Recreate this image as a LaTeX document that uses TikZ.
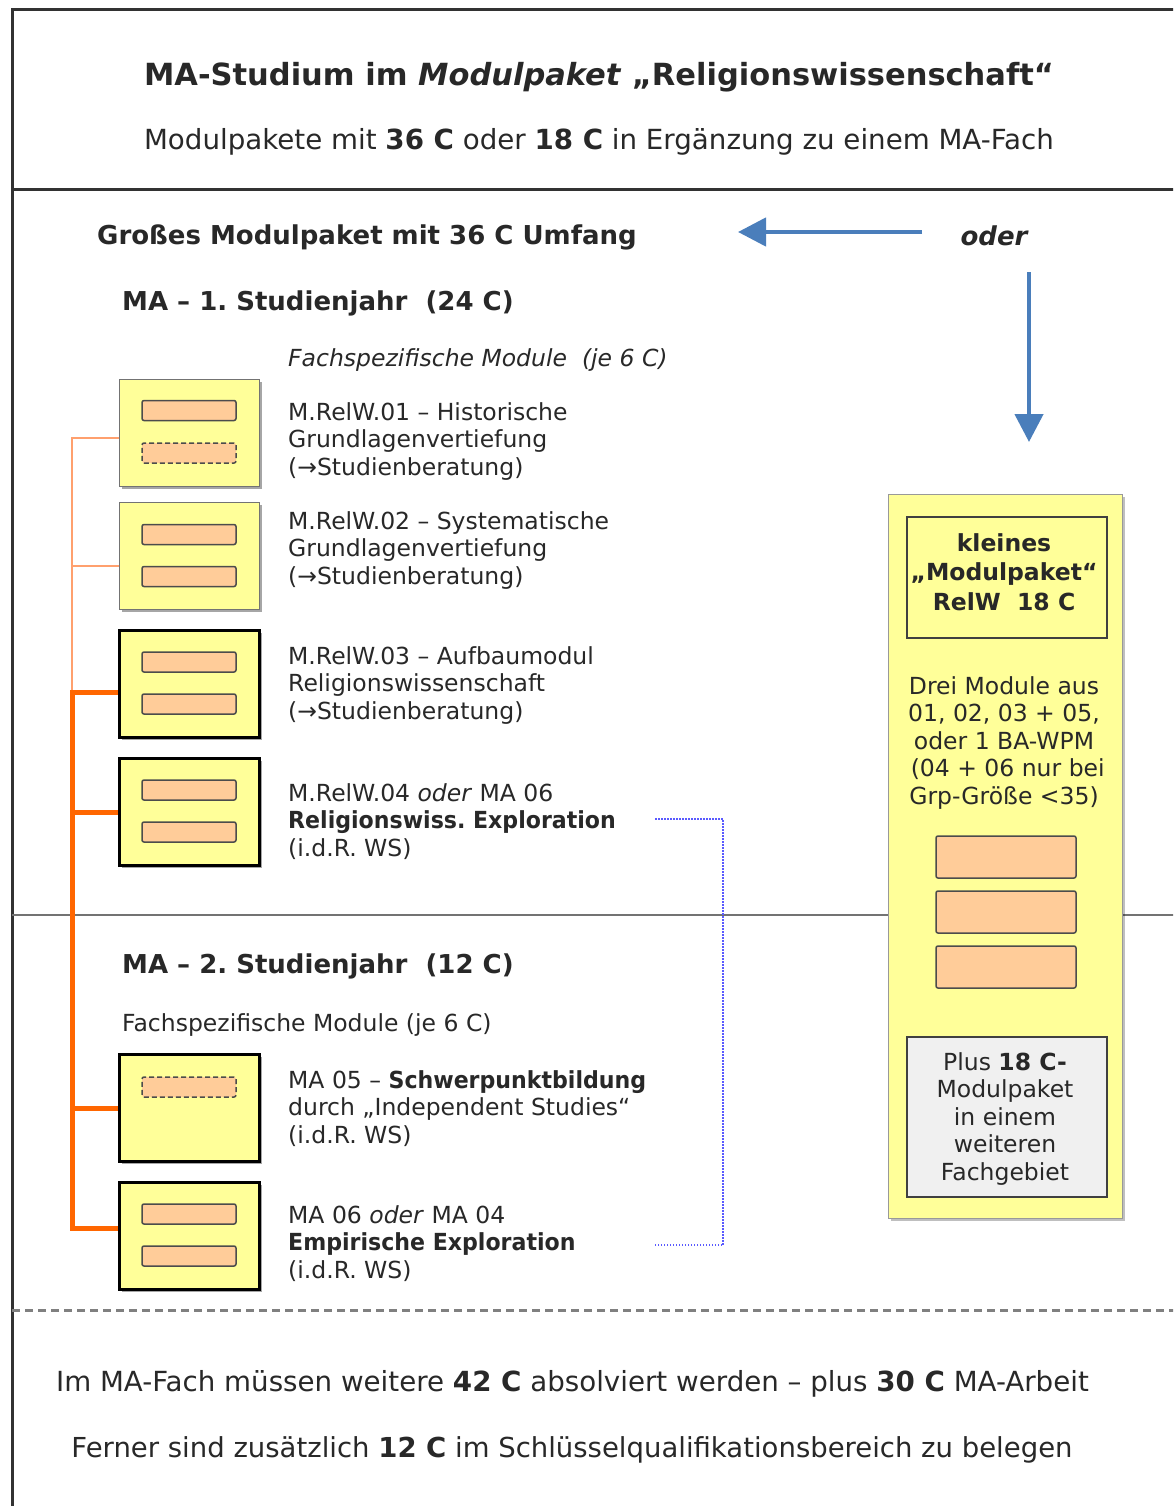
\documentclass[tikz,border=0pt]{standalone}
\usepackage{fontspec}
\setmainfont{DejaVu Sans}
\usetikzlibrary{arrows.meta,shadows,calc}
\definecolor{boxyellow}{RGB}{255,255,153}
\definecolor{barorange}{RGB}{255,204,153}
\definecolor{thickorange}{RGB}{255,102,0}
\definecolor{thinorange}{RGB}{255,160,110}
\definecolor{arrowblue}{RGB}{74,126,187}
\definecolor{dotblue}{RGB}{90,90,255}
\definecolor{txt}{RGB}{40,40,40}
\definecolor{graybox}{RGB}{240,240,240}
\definecolor{framecol}{RGB}{50,50,50}
\newcommand\mbold[1]{{\bfseries\addfontfeatures{FakeStretch=0.94}#1}}
\frenchspacing
\begin{document}
\frenchspacing
\begin{tikzpicture}[x=1pt,y=-1pt,
  every node/.style={inner sep=0pt, text=txt},
  headfont/.style={font=\fontsize{26}{31}\selectfont\bfseries},
  modfont/.style={font=\fontsize{23.5}{27.5}\selectfont},
  modtext/.style={modfont, align=left, anchor=north west},
  shadowed/.style={drop shadow={shadow xshift=2.5pt, shadow yshift=-2.5pt, opacity=0.35, fill=black}},
  modthin/.style={draw=black!55, line width=1pt, fill=boxyellow, minimum width=140pt, minimum height=107pt, shadowed},
  modthick/.style={draw=black, line width=3pt, fill=boxyellow, minimum width=140pt, minimum height=107pt, shadowed},
  bar/.style={draw=black!70, fill=barorange, rounded corners=2pt, line width=1.5pt, minimum width=94pt, minimum height=20pt},
  dbar/.style={bar, dash pattern=on 5pt off 3pt},
  thinline/.style={draw=thinorange, line width=1.3pt},
  thickline/.style={draw=thickorange, line width=5pt, line join=miter},
  bluearrow/.style={draw=arrowblue, line width=4.5pt, -{Triangle[length=28pt,width=28pt]}},
  frameline/.style={draw=framecol, line width=3pt}
]
\useasboundingbox (0,0) rectangle (1173,1506);
\clip (0,0) rectangle (1173,1506);
\fill[white] (0,0) rectangle (1173,1506);

% frame and separators
\draw[frameline] (12,1510) -- (12,10) -- (1180,10);
\draw[frameline] (12,190) -- (1180,190);
\draw[draw=black!55, line width=2pt] (12,915) -- (1180,915);
\draw[draw=black!50, line width=3pt, dash pattern=on 8pt off 5pt] (12,1310) -- (1180,1310);

% header
\node[anchor=base, font=\fontsize{30.5}{36}\selectfont\bfseries] (title) at (599,86)
  {MA-Studium im \textit{Modulpaket} „Religionswissenschaft“};
\node[anchor=base, font=\fontsize{27.7}{32}\selectfont] (subtitle) at (599,150)
  {Modulpakete mit \textbf{36 C} oder \textbf{18 C} in Ergänzung zu einem MA-Fach};

\node[anchor=base west, headfont] (gross) at (97,245) {Großes Modulpaket mit 36 C Umfang};
\node[anchor=base, headfont, font=\fontsize{26}{31}\selectfont\bfseries\itshape] (oder) at (994,246) {oder};
\coordinate (arrLa) at (922,232);
\coordinate (arrLb) at (738,232);
\coordinate (arrDa) at (1029,272);
\coordinate (arrDb) at (1029,442);
\draw[bluearrow] (arrLa) -- (arrLb);
\draw[bluearrow] (arrDa) -- (arrDb);

\node[anchor=base west, headfont] (year1) at (122,310) {MA – 1. Studienjahr\ \ (24 C)};
\node[anchor=base west, modfont, font=\fontsize{23.5}{27.5}\selectfont\itshape] (fach1) at (288,366) {Fachspezifische Module\ \ (je 6 C)};

% module boxes
\node[modthin] (b1) at (189,432.5) {};
\node[modthin] (b2) at (189,555.5) {};
\node[modthick] (b3) at (189,684) {};
\node[modthick] (b4) at (189,812) {};
\node[modthick] (b5) at (189,1107.5) {};
\node[modthick] (b6) at (189,1236) {};

\node[bar]  (b1a) at ($(b1.north)+(0,32)$) {};
\node[dbar] (b1b) at ($(b1.north)+(0,74.5)$) {};
\node[bar]  (b2a) at ($(b2.north)+(0,33)$) {};
\node[bar]  (b2b) at ($(b2.north)+(0,75)$) {};
\node[bar]  (b3a) at ($(b3.north)+(0,33)$) {};
\node[bar]  (b3b) at ($(b3.north)+(0,75)$) {};
\node[bar]  (b4a) at ($(b4.north)+(0,33)$) {};
\node[bar]  (b4b) at ($(b4.north)+(0,75)$) {};
\node[dbar] (b5a) at ($(b5.north)+(0,34.5)$) {};
\node[bar]  (b6a) at ($(b6.north)+(0,33)$) {};
\node[bar]  (b6b) at ($(b6.north)+(0,75)$) {};

% tree connectors
\coordinate (s1) at (72,438);
\coordinate (s2) at (72,566);
\coordinate (s3) at (72,692);
\coordinate (s4) at (72,812);
\coordinate (s5) at (72,1108);
\coordinate (s6) at (72,1228);
\draw[thinline] (b1.west |- s1) -- (s1) -- (s3);
\draw[thinline] (s2) -- (b2.west |- s2);
\draw[thickline] (b3.west |- s3) -- (s3) -- (s6) -- (b6.west |- s6);
\draw[thickline] (s4) -- (b4.west |- s4);
\draw[thickline] (s5) -- (b5.west |- s5);

% module texts
\node[modtext] (t1) at (288,402) {\rule{0pt}{18pt}M.RelW.01 – Historische\\Grundlagenvertiefung\\(→Studienberatung)};
\node[modtext] (t2) at (288,511) {\rule{0pt}{18pt}M.RelW.02 – Systematische\\Grundlagenvertiefung\\(→Studienberatung)};
\node[modtext] (t3) at (288,646) {\rule{0pt}{18pt}M.RelW.03 – Aufbaumodul\\Religionswissenschaft\\(→Studienberatung)};
\node[modtext] (t4) at (288,783) {\rule{0pt}{18pt}M.RelW.04 \textit{oder} MA 06\\\mbold{Religionswiss. Exploration}\\(i.d.R. WS)};

\node[anchor=base west, headfont] (year2) at (122,973) {MA – 2. Studienjahr\ \ (12 C)};
\node[anchor=base west, modfont] (fach2) at (122,1031) {Fachspezifische Module (je 6 C)};

\node[modtext] (t5) at (288,1070) {\rule{0pt}{18pt}MA 05 – \mbold{Schwerpunktbildung}\\durch „Independent Studies“\\(i.d.R. WS)};
\node[modtext] (t6) at (288,1205) {\rule{0pt}{18pt}MA 06 \textit{oder} MA 04\\\mbold{Empirische Exploration}\\(i.d.R. WS)};

% dotted bracket
\coordinate (d1) at (655,819);
\coordinate (d2) at (723,819);
\coordinate (d3) at (723,1245);
\coordinate (d4) at (655,1245);
\draw[dotblue, line width=2pt, dash pattern=on 1.5pt off 1.5pt] (d1) -- (d2) -- (d3) -- (d4);

% right package box
\node[draw=black!40, line width=1pt, fill=boxyellow, minimum width=234pt, minimum height=724pt,
      drop shadow={shadow xshift=2.5pt, shadow yshift=-2.5pt, opacity=0.25, fill=black}] (rb) at (1005,856) {};
\node[draw=black!75, line width=1.5pt, fill=boxyellow, minimum width=200pt, minimum height=121pt] (kl) at (1007,577.5) {};
\node[anchor=north, align=center, font=\fontsize{23.5}{29.5}\selectfont\bfseries] (klt) at (1004,533)
  {\rule{0pt}{18pt}kleines\\„Modulpaket“\\RelW\ \ 18 C};
\node[anchor=north, align=center, modfont] (drei) at (1004,676)
  {\rule{0pt}{18pt}Drei Module aus\\01, 02, 03 + 05,\\oder 1 BA-WPM\\\ (04 + 06 nur bei\\Grp-Größe <35)};
\node[bar, minimum width=140pt, minimum height=42pt] (r1) at (1006,857) {};
\node[bar, minimum width=140pt, minimum height=42pt] (r2) at (1006,912) {};
\node[bar, minimum width=140pt, minimum height=42pt] (r3) at (1006,967) {};
\node[draw=black!75, line width=1.5pt, fill=graybox, minimum width=200pt, minimum height=160pt] (gb) at (1007,1117) {};
\node[anchor=north, align=center, modfont] (plus) at (1005,1052)
  {\rule{0pt}{18pt}Plus \textbf{18 C-}\\Modulpaket\\in einem\\weiteren\\Fachgebiet};

% footer
\node[anchor=base, font=\fontsize{27.7}{32}\selectfont] (foot1) at (572.5,1391)
  {Im MA-Fach müssen weitere \textbf{42 C} absolviert werden – plus \textbf{30 C} MA-Arbeit};
\node[anchor=base, font=\fontsize{27.5}{32}\selectfont] (foot2) at (572,1457)
  {Ferner sind zusätzlich \textbf{12 C} im Schlüsselqualifikationsbereich zu belegen};
\end{tikzpicture}
\end{document}
